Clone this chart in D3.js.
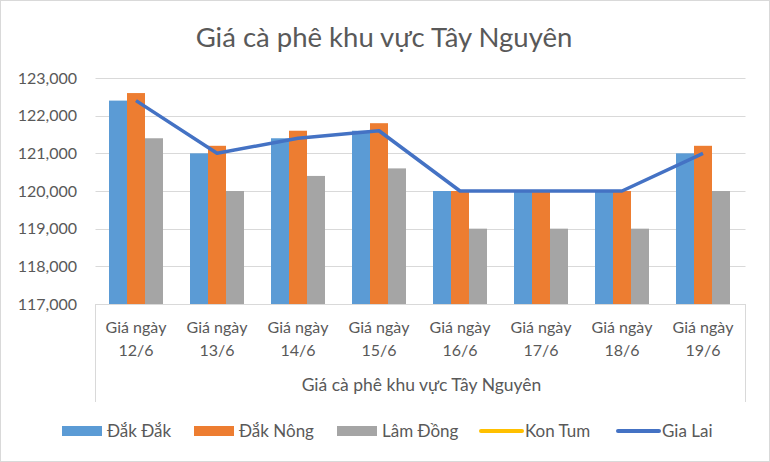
<!DOCTYPE html>
<html><head><meta charset="utf-8">
<script src="https://cdn.jsdelivr.net/npm/d3@7"></script>
<style>body{margin:0;background:#fff}svg{display:block;font-family:Lato,"Open Sans",sans-serif}</style>
</head><body><svg id="c" width="770" height="462"></svg>
<script>
const title = "Giá cà phê khu vực Tây Nguyên";
const categories = ["12/6","13/6","14/6","15/6","16/6","17/6","18/6","19/6"];
const catPrefix = "Giá ngày";
const groupLabel = "Giá cà phê khu vực Tây Nguyên";
const dakDak   = [122400,121000,121400,121600,120000,120000,120000,121000];
const dakNong  = [122600,121200,121600,121800,120000,120000,120000,121200];
const lamDong  = [121400,120000,120400,120600,119000,119000,119000,120000];
const konTum   = [null,null,null,null,null,null,null,null];
const giaLai   = [122400,121000,121400,121600,120000,120000,120000,121000];
const yTicks   = [117000,118000,119000,120000,121000,122000,123000];
const barSeries = [
  {name:"Đắk Đắk", values:dakDak, color:"#5B9BD5"},
  {name:"Đắk Nông", values:dakNong, color:"#ED7D31"},
  {name:"Lâm Đồng", values:lamDong, color:"#A5A5A5"}
];
const lineSeries = [
  {name:"Kon Tum", values:konTum, color:"#FFC000"},
  {name:"Gia Lai", values:giaLai, color:"#4472C4"}
];

const svg = d3.select("#c");
svg.append("rect").attr("x",0.5).attr("y",0.5).attr("width",769).attr("height",461)
  .attr("fill","#fff").attr("stroke","#d9d9d9");

const L=95.5, R=743.5, T=78, B=304;
const x = d3.scaleBand().domain(categories).range([L,R]).paddingInner(1/3).paddingOuter(1/6);
const xs = d3.scaleBand().domain(barSeries.map(s=>s.name)).range([0,x.bandwidth()]);
const y = d3.scaleLinear().domain([117000,123000]).range([B,T]);
const txt = "#595959";

svg.append("text").attr("x",384).attr("y",47).attr("text-anchor","middle")
  .attr("font-size",27.5).attr("fill",txt).text(title);

// gridlines
svg.append("g").selectAll("line").data(yTicks.slice(1)).join("line")
  .attr("x1",L).attr("x2",R+2).attr("y1",d=>Math.round(y(d))+0.5).attr("y2",d=>Math.round(y(d))+0.5)
  .attr("stroke","#d9d9d9").attr("stroke-width",1);

// y axis
const yAxis = svg.append("g").attr("transform",`translate(77,0)`)
  .call(d3.axisLeft(y).tickValues(yTicks).tickFormat(d3.format(",")).tickSize(0).tickPadding(0));
yAxis.select(".domain").remove();
yAxis.selectAll("text").attr("font-size",16).attr("fill",txt).attr("font-family","Lato,'Open Sans',sans-serif");

// bars
barSeries.forEach(s=>{
  svg.append("g").selectAll("rect").data(s.values.map((v,i)=>({v,c:categories[i]}))).join("rect")
    .attr("x",d=>x(d.c)+xs(s.name)).attr("width",xs.bandwidth())
    .attr("y",d=>y(d.v)).attr("height",d=>B-y(d.v)).attr("fill",s.color);
});

// axis line and category frame
svg.append("line").attr("x1",L).attr("x2",R+2).attr("y1",B+0.5).attr("y2",B+0.5).attr("stroke","#d9d9d9");
svg.append("line").attr("x1",L).attr("x2",L).attr("y1",B).attr("y2",402).attr("stroke","#d9d9d9");
svg.append("line").attr("x1",R+2).attr("x2",R+2).attr("y1",B).attr("y2",402).attr("stroke","#d9d9d9");

// lines
const line = d3.line().defined(d=>d.v!=null).x(d=>x(d.c)+x.bandwidth()/2).y(d=>y(d.v));
lineSeries.forEach(s=>{
  svg.append("path").datum(s.values.map((v,i)=>({v,c:categories[i]})))
    .attr("d",line).attr("fill","none").attr("stroke",s.color).attr("stroke-width",3.5)
    .attr("stroke-linejoin","round");
});

// category labels
const cl = svg.append("g").selectAll("text").data(categories).join("text")
  .attr("text-anchor","middle").attr("font-size",16).attr("fill",txt)
  .attr("x",d=>x(d)+x.bandwidth()/2);
cl.append("tspan").attr("x",d=>x(d)+x.bandwidth()/2).attr("y",333).text(catPrefix);
cl.append("tspan").attr("x",d=>x(d)+x.bandwidth()/2).attr("y",356).text(d=>d);
svg.append("text").attr("x",(L+R)/2+2).attr("y",391).attr("text-anchor","middle")
  .attr("font-size",17.5).attr("fill",txt).text(groupLabel);

// legend
const legendItems = [
  {name:"Đắk Đắk", color:"#5B9BD5", type:"bar", x:62},
  {name:"Đắk Nông", color:"#ED7D31", type:"bar", x:194},
  {name:"Lâm Đồng", color:"#A5A5A5", type:"bar", x:337},
  {name:"Kon Tum", color:"#FFC000", type:"line", x:480},
  {name:"Gia Lai", color:"#4472C4", type:"line", x:617}
];
const lg = svg.append("g").selectAll("g").data(legendItems).join("g")
  .attr("transform",d=>`translate(${d.x},431)`);
lg.filter(d=>d.type==="bar").append("rect").attr("x",0).attr("y",-5).attr("width",40).attr("height",10).attr("fill",d=>d.color);
lg.filter(d=>d.type==="line").append("line").attr("x1",1).attr("x2",42).attr("y1",0).attr("y2",0)
  .attr("stroke",d=>d.color).attr("stroke-width",4).attr("stroke-linecap","round");
lg.append("text").attr("x",45).attr("y",6).attr("font-size",17).attr("fill",txt).text(d=>d.name);
</script></body></html>
